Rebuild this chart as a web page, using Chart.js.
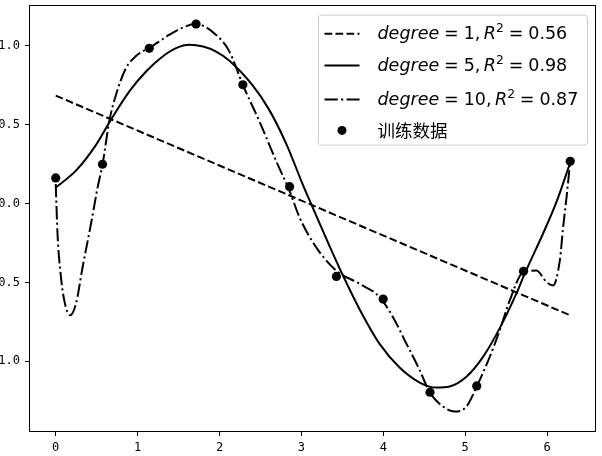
<!DOCTYPE html>
<html>
<head>
<meta charset="utf-8">
<script src="https://cdn.jsdelivr.net/npm/chart.js@4.4.1/dist/chart.umd.min.js"></script>
<style>
    html, body { margin: 0; padding: 0; background: #fff; }
    #wrap { width: 602px; height: 456px; position: relative; }
</style>
</head>
<body>
<div id="wrap"><canvas id="fit-chart"></canvas></div>
<script>
// training samples
const trainX = [0, 0.571, 1.142, 1.714, 2.285, 2.856, 3.427, 3.998, 4.570, 5.141, 5.712, 6.283];
const trainY = [0.162, 0.249, 0.984, 1.138, 0.753, 0.107, -0.462, -0.606, -1.196, -1.156, -0.430, 0.268];

// degree 1 fit (straight line)
const deg1X = [0, 6.283];
const deg1Y = [0.684, -0.709];

// degree 5 fit
const deg5X = [0, 0.25, 0.49, 0.675, 0.899, 1.103, 1.306, 1.47, 1.632, 1.80, 1.958, 2.121, 2.402, 2.60, 2.814, 3.017, 3.120, 3.344, 3.506, 3.710, 3.955, 4.199, 4.444, 4.648, 4.810, 5.015, 5.218, 5.422, 5.626, 5.727, 5.951, 6.115, 6.283];
const deg5Y = [0.101, 0.21, 0.37, 0.532, 0.711, 0.837, 0.932, 0.985, 1.006, 0.995, 0.963, 0.905, 0.75, 0.60, 0.38, 0.12, -0.004, -0.27, -0.455, -0.67, -0.89, -1.04, -1.135, -1.167, -1.16, -1.098, -0.972, -0.79, -0.57, -0.445, -0.19, 0.01, 0.26];

// degree 10 fit
const deg10X = [0, 0.022, 0.064, 0.104, 0.174, 0.247, 0.328, 0.430, 0.511, 0.572, 0.654, 0.736, 0.858, 0.980, 1.152, 1.30, 1.388, 1.55, 1.705, 1.958, 2.121, 2.284, 2.488, 2.692, 2.855, 2.977, 3.181, 3.425, 3.710, 3.955, 4.117, 4.281, 4.444, 4.566, 4.729, 4.872, 5.015, 5.144, 5.300, 5.422, 5.544, 5.719, 5.870, 5.993, 6.073, 6.155, 6.196, 6.237, 6.283];
const deg10Y = [0.124, -0.193, -0.467, -0.614, -0.709, -0.635, -0.404, -0.130, 0.101, 0.249, 0.522, 0.690, 0.858, 0.935, 0.99, 1.04, 1.07, 1.115, 1.138, 1.069, 0.963, 0.753, 0.520, 0.269, 0.080, -0.088, -0.278, -0.425, -0.509, -0.593, -0.719, -0.887, -1.056, -1.196, -1.287, -1.319, -1.287, -1.156, -0.972, -0.803, -0.614, -0.431, -0.425, -0.498, -0.519, -0.362, -0.151, 0.038, 0.268];

const xTicks = [0, 1, 2, 3, 4, 5, 6];
const yTicks = [-1.0, -0.5, 0.0, 0.5, 1.0];

const legendDegrees = ['1', '5', '10'];
const legendR2 = ['0.56', '0.98', '0.87'];
const scatterLabel = '训练数据';

const dashed = [7.7, 3.3];
const dashDot = [13.3, 3.3, 2.1, 3.3];
const lineDashes = [dashed, [], dashDot];

function toPoints(xs, ys) {
    return xs.map((x, i) => ({ x: x, y: ys[i] }));
}

function lineSet(xs, ys, dash) {
    return {
        type: 'line',
        data: toPoints(xs, ys),
        borderColor: '#000',
        borderWidth: 2,
        borderDash: dash,
        pointRadius: 0,
        fill: false,
        cubicInterpolationMode: 'monotone',
    };
}

// spines on all four sides
const framePlugin = {
    id: 'frame',
    afterDatasetsDraw(chart) {
        const ctx = chart.ctx;
        const a = chart.chartArea;
        ctx.save();
        ctx.strokeStyle = '#000';
        ctx.lineWidth = 1;
        ctx.strokeRect(Math.round(a.left) - 0.5, Math.round(a.top) + 0.5, Math.round(a.right - a.left), Math.round(a.bottom - a.top));
        ctx.restore();
    }
};

function drawMathLabel(ctx, x, y, parts, size) {
    parts.forEach(p => {
        if (p.gap) {
            x += p.gap * size;
            return;
        }
        const fs = p.sup ? size * 0.7 : size;
        ctx.font = (p.italic ? 'italic ' : '') + fs + 'px "DejaVu Sans"';
        const dy = p.sup ? -0.42 * size : 0;
        ctx.fillText(p.text, x, y + dy);
        x += ctx.measureText(p.text).width;
    });
}

// matplotlib style legend box
const legendPlugin = {
    id: 'mplLegend',
    afterDraw(chart) {
        const ctx = chart.ctx;
        const a = chart.chartArea;
        const size = 17.5;
        const bx = a.right - 277.5;
        const by = a.top + 10.5;
        const bw = 269;
        const bh = 130;

        ctx.save();
        ctx.beginPath();
        ctx.roundRect(bx, by, bw, bh, 3);
        ctx.fillStyle = 'rgba(255,255,255,0.8)';
        ctx.fill();
        ctx.strokeStyle = '#cccccc';
        ctx.lineWidth = 1;
        ctx.stroke();

        const rows = [18.7, 50.3, 84.3, 115.3];
        const hx0 = bx + 6;
        const hx1 = bx + 41;
        const tx = bx + 59;

        ctx.fillStyle = '#000';
        ctx.strokeStyle = '#000';
        ctx.textBaseline = 'alphabetic';
        ctx.textAlign = 'left';

        legendDegrees.forEach((d, i) => {
            const ry = by + rows[i];
            ctx.beginPath();
            ctx.lineWidth = 2;
            ctx.setLineDash(lineDashes[i]);
            ctx.moveTo(hx0, ry);
            ctx.lineTo(hx1, ry);
            ctx.stroke();
            ctx.setLineDash([]);

            drawMathLabel(ctx, tx, ry + 5.5, [
                { text: 'degree', italic: true },
                { gap: 0.28 }, { text: '=' }, { gap: 0.28 },
                { text: d }, { text: ',' }, { gap: 0.2 },
                { text: 'R', italic: true }, { text: '2', sup: true },
                { gap: 0.28 }, { text: '=' }, { gap: 0.28 },
                { text: legendR2[i] }
            ], size);
        });

        const sy = by + rows[3];
        ctx.beginPath();
        ctx.arc((hx0 + hx1) / 2, sy, 4.5, 0, Math.PI * 2);
        ctx.fill();
        ctx.font = size + 'px "Noto Sans CJK SC"';
        ctx.textBaseline = 'middle';
        ctx.fillText(scatterLabel, tx, sy);
        ctx.restore();
    }
};

Chart.defaults.color = '#000';

const ctx = document.getElementById('fit-chart').getContext('2d');
const fitChart = new Chart(ctx, {
    type: 'line',
    data: {
        datasets: [
            lineSet(deg1X, deg1Y, dashed),
            lineSet(deg5X, deg5Y, []),
            lineSet(deg10X, deg10Y, dashDot),
            {
                type: 'scatter',
                data: toPoints(trainX, trainY),
                backgroundColor: '#000',
                borderWidth: 0,
                pointRadius: 4.6,
                showLine: false,
            },
        ],
    },
    options: {
        responsive: true,
        maintainAspectRatio: false,
        devicePixelRatio: 1,
        animation: false,
        layout: { padding: { top: 3, right: 6, left: 0, bottom: 0 } },
        plugins: {
            legend: { display: false },
            tooltip: { enabled: false },
        },
        scales: {
            x: {
                type: 'linear',
                min: -0.3142,
                max: 6.5973,
                afterFit: scale => {
                    scale.height = 25;
                    scale.paddingLeft = 0;
                    scale.paddingRight = 0;
                },
                afterBuildTicks: scale => { scale.ticks = xTicks.map(v => ({ value: v })); },
                grid: { drawOnChartArea: false, drawTicks: true, tickLength: 5, color: '#000' },
                border: { display: false },
                ticks: {
                    padding: 5,
                    maxRotation: 0,
                    font: { family: '"DejaVu Sans Mono"', size: 12 },
                    callback: v => String(v),
                },
            },
            y: {
                type: 'linear',
                min: -1.442,
                max: 1.261,
                afterFit: scale => {
                    scale.width = 30;
                    scale.paddingTop = 0;
                    scale.paddingBottom = 0;
                },
                afterBuildTicks: scale => { scale.ticks = yTicks.map(v => ({ value: v })); },
                grid: { drawOnChartArea: false, drawTicks: true, tickLength: 5, color: '#000' },
                border: { display: false },
                ticks: {
                    padding: 5,
                    font: { family: '"DejaVu Sans Mono"', size: 12 },
                    callback: v => v.toFixed(1),
                },
            },
        },
    },
    plugins: [framePlugin, legendPlugin],
});
</script>
</body>
</html>
